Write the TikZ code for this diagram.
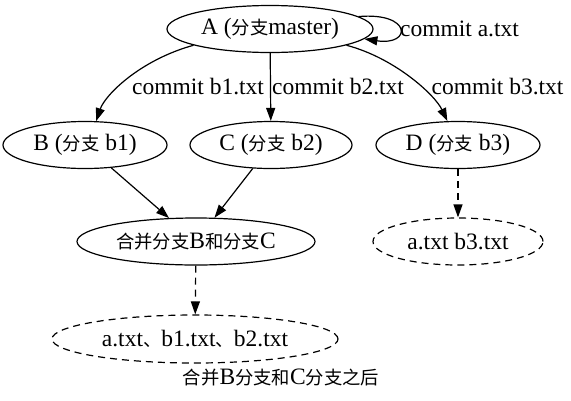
\documentclass[tikz,border=0pt]{standalone}
\usepackage{fontspec}
\setmainfont{Liberation Serif}
\newfontfamily\cjkf[Scale=0.78]{Noto Sans CJK SC}
\newcommand\zh[1]{{\cjkf #1}}
\usetikzlibrary{shapes.geometric,arrows.meta}
\begin{document}
\begin{tikzpicture}[x=1pt,y=-1pt,
  every node/.style={font=\fontsize{23.5}{28}\selectfont},
  nd/.style={ellipse,draw,line width=1.2pt,inner sep=0pt,minimum height=47pt},
  dnd/.style={nd,dash pattern=on 7pt off 5pt},
  arr/.style={line width=1.2pt,-{Triangle[length=13pt,width=9pt]}},
  darr/.style={arr,dash pattern=on 7pt off 5pt},
  lbl/.style={inner sep=0pt}]
\useasboundingbox (0,0) rectangle (571,400);
\node[nd,minimum width=206pt] (A) at (270,29) {A (\zh{分支}master)};
\node[nd,minimum width=164pt] (B) at (85,145) {B (\zh{分支} b1)};
\node[nd,minimum width=162pt] (C) at (271,145) {C (\zh{分支} b2)};
\node[nd,minimum width=164pt] (D) at (458,145) {D (\zh{分支} b3)};
\node[nd,minimum width=238pt] (M) at (196,241.5) {\zh{合并分支}B\zh{和分支}C};
\node[dnd,minimum width=170pt] (E) at (458,241.5) {a.txt b3.txt};
\node[dnd,minimum width=286pt,minimum height=48pt] (F) at (195,339) {a.txt\zh{、}b1.txt\zh{、}b2.txt};
\node[lbl] (cap) at (281,378) {\zh{合并}B\zh{分支和}C\zh{分支之后}};

\draw[arr] (A.192) .. controls (140,60) and (105,95) .. (B.65);
\draw[arr] (A) -- (C);
\draw[arr] (A.-12) .. controls (395,58) and (435,95) .. (D.114);
\draw[arr] (A.8) .. controls (412,12) and (412,46) .. (A.-6);
\draw[arr] (B) -- (M);
\draw[arr] (C) -- (M);
\draw[darr] (D) -- (E);
\draw[darr] (M) -- (F);

\node[lbl] (l1) at (198,87) {commit b1.txt};
\node[lbl] (l2) at (338,87) {commit b2.txt};
\node[lbl] (l3) at (497.5,87) {commit b3.txt};
\node[lbl] (l0) at (459.5,29) {commit a.txt};
\end{tikzpicture}
\end{document}
